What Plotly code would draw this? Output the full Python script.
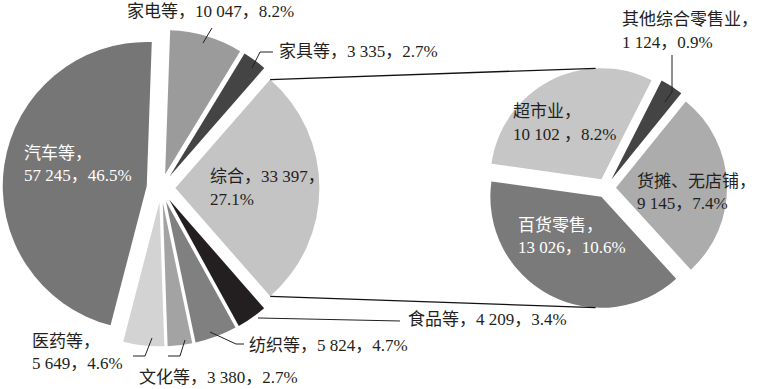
import math
import plotly.graph_objects as go

W, H = 761, 389

# ---------------- data ----------------
main_names = ["家电等", "家具等", "综合", "食品等", "纺织等", "文化等", "医药等", "汽车等"]
main_values = [10047, 3335, 33397, 4209, 5824, 3380, 5649, 57245]
main_value_text = ["10 047", "3 335", "33 397", "4 209", "5 824", "3 380", "5 649", "57 245"]
main_pct = ["8.2%", "2.7%", "27.1%", "3.4%", "4.7%", "2.7%", "4.6%", "46.5%"]

sub_names = ["超市业", "其他综合零售业", "货摊、无店铺", "百货零售"]
sub_values = [10102, 1124, 9145, 13026]
sub_value_text = ["10 102 ", "1 124", "9 145", "13 026"]
sub_pct = ["8.2%", "0.9%", "7.4%", "10.6%"]

# ---------------- styles ----------------
main_colors = ["#9b9b9b", "#444444", "#c4c4c4", "#231f20", "#808080", "#a3a3a3", "#d3d3d3", "#767676"]
sub_colors = ["#c6c6c6", "#444444", "#acacac", "#7a7a7a"]

# pie geometry (pixels)
L_CX, L_CY, L_R, L_PULL, L_ROT = 161, 188, 144, 0.10, 2
R_CX, R_CY, R_R, R_PULL, R_ROT = 606, 188, 111, 0.09, 278

FONT = "Liberation Serif, Times New Roman, Noto Sans CJK SC, serif"
FSIZE = 17
DARK = "#231f20"


def px(x):
    return x / W


def py(y):
    return 1 - y / H


def domain(cx, cy, r, pull):
    half = r * (1 + pull)
    return dict(x=[max(0, px(cx - half)), min(1, px(cx + half))],
                y=[max(0, py(cy + half)), min(1, py(cy - half))])


fig = go.Figure()
fig.add_trace(go.Pie(
    labels=main_names, values=main_values, sort=False, direction="clockwise",
    rotation=L_ROT, pull=[L_PULL] * len(main_values),
    marker=dict(colors=main_colors, line=dict(width=0)),
    textinfo="none", hoverinfo="label+value+percent",
    domain=domain(L_CX, L_CY, L_R, L_PULL), showlegend=False,
))
fig.add_trace(go.Pie(
    labels=sub_names, values=sub_values, sort=False, direction="clockwise",
    rotation=R_ROT, pull=[R_PULL] * len(sub_values),
    marker=dict(colors=sub_colors, line=dict(width=0)),
    textinfo="none", hoverinfo="label+value",
    domain=domain(R_CX, R_CY, R_R, R_PULL), showlegend=False,
))


def slice_point(values, idx, cx, cy, r, pull, rot, ang):
    """point on the arc of (pulled) slice idx at angle ang (deg clockwise from top)"""
    tot = sum(values)
    start = rot + 360 * sum(values[:idx]) / tot
    mid = math.radians(start + 180 * values[idx] / tot)
    ox, oy = pull * r * math.sin(mid), -pull * r * math.cos(mid)
    a = math.radians(ang)
    return cx + ox + r * math.sin(a), cy + oy - r * math.cos(a)


# connector lines between the 综合 slice and the secondary pie
tot = sum(main_values)
zi = main_names.index("综合")
z_start = L_ROT + 360 * sum(main_values[:zi]) / tot
z_end = z_start + 360 * main_values[zi] / tot
p1 = slice_point(main_values, zi, L_CX, L_CY, L_R, L_PULL, L_ROT, z_start)
p2 = slice_point(main_values, zi, L_CX, L_CY, L_R, L_PULL, L_ROT, z_end)
q1 = slice_point(sub_values, 0, R_CX, R_CY, R_R, R_PULL, R_ROT, 357)
q2 = slice_point(sub_values, 3, R_CX, R_CY, R_R, R_PULL, R_ROT, 183)

shapes = []
for a, b in [(p1, q1), (p2, q2)]:
    shapes.append(dict(type="line", xref="paper", yref="paper",
                       x0=px(a[0]), y0=py(a[1]), x1=px(b[0]), y1=py(b[1]),
                       line=dict(color="#111111", width=1.3)))

# leader lines (pixel paths)
leaders = [
    [(203, 43), (212, 28)],
    [(252, 68), (260, 52), (273, 52)],
    [(258, 318), (400, 321)],
    [(210, 332), (236, 344), (244, 344)],
    [(185, 340), (180, 356), (168, 356)],
    [(152, 338), (145, 356), (133, 356)],
    [(672, 55), (672, 92), (665, 102)],
]
for pts in leaders:
    path = "M " + " L ".join(f"{px(x):.5f},{py(y):.5f}" for x, y in pts)
    shapes.append(dict(type="path", xref="paper", yref="paper", path=path,
                       line=dict(color=DARK, width=1)))


def one(n, v, p):
    return [f"{n}，{v}，{p}"]


def two_name(n, v, p):
    return [f"{n}，", f"{v}，{p}"]


def two_pct(n, v, p):
    return [f"{n}，{v}，", p]


# label placement: (line split, left x, first-line centre y, colour)
main_layout = {
    "家电等": (one, 125, 12, DARK),
    "家具等": (one, 277, 52, DARK),
    "综合": (two_pct, 208, 177, DARK),
    "食品等": (one, 406, 319, DARK),
    "纺织等": (one, 247, 345, DARK),
    "文化等": (one, 137, 377, DARK),
    "医药等": (two_name, 30, 341, DARK),
    "汽车等": (two_name, 22, 153, "white"),
}
sub_layout = {
    "超市业": (two_name, 511, 112, DARK),
    "其他综合零售业": (two_name, 620, 20, DARK),
    "货摊、无店铺": (two_name, 635, 181, DARK),
    "百货零售": (two_name, 516, 225, "white"),
}

LINE_GAP = 22.5
annotations = []
for names, vals, pcts, lay in [(main_names, main_value_text, main_pct, main_layout),
                               (sub_names, sub_value_text, sub_pct, sub_layout)]:
    for n, v, p in zip(names, vals, pcts):
        fn, x, y, col = lay[n]
        for k, line in enumerate(fn(n, v, p)):
            annotations.append(dict(
                x=px(x), y=py(y + k * LINE_GAP), xref="paper", yref="paper",
                text=line, showarrow=False, xanchor="left", yanchor="middle",
                font=dict(family=FONT, size=FSIZE, color=col),
            ))

fig.update_layout(
    width=W, height=H, margin=dict(l=0, r=0, t=0, b=0),
    paper_bgcolor="white", plot_bgcolor="white",
    shapes=shapes, annotations=annotations, showlegend=False,
)

# remove the default 8px page margin so the figure fills the window exactly
fig.write_html("out.html", config={"displayModeBar": False},
               post_script="document.body.style.margin='0';")
